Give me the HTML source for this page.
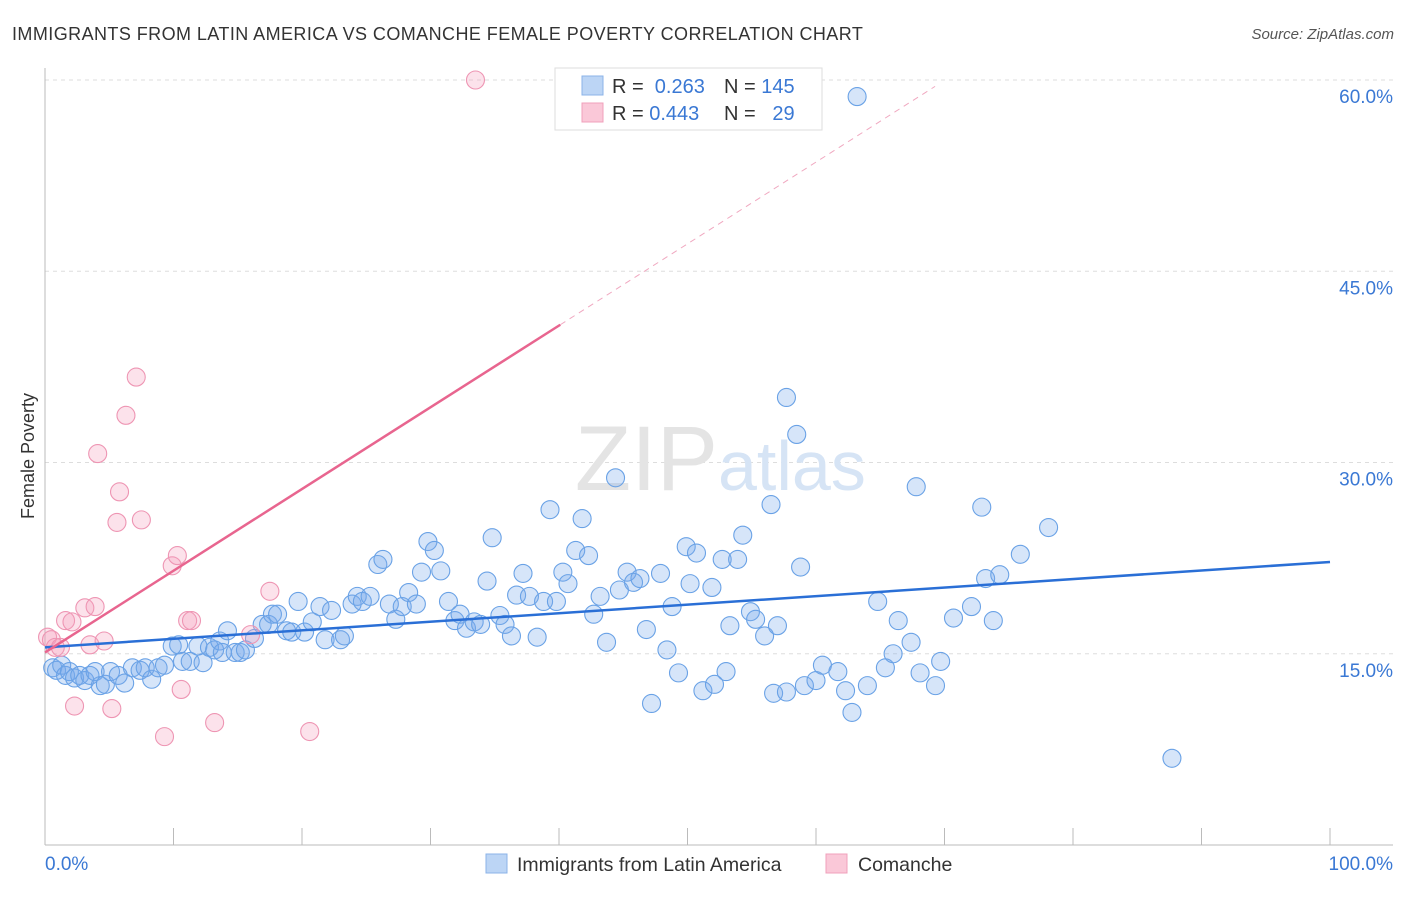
<!DOCTYPE html>
<html><head><meta charset="utf-8"><style>
body{margin:0;background:#fff;font-family:"Liberation Sans",sans-serif;}
svg text{font-family:"Liberation Sans",sans-serif;}
</style></head><body>
<svg id="chart" width="1406" height="892" xmlns="http://www.w3.org/2000/svg">
<text x="12" y="40" font-size="18" fill="#333" letter-spacing="0.43">IMMIGRANTS FROM LATIN AMERICA VS COMANCHE FEMALE POVERTY CORRELATION CHART</text>
<text x="1394" y="39" font-size="15" fill="#555" font-style="italic" text-anchor="end">Source: ZipAtlas.com</text>
<text x="34" y="456" font-size="18" fill="#333" text-anchor="middle" transform="rotate(-90 34 456)">Female Poverty</text>
<g id="grid"></g>
<text x="718" y="490" font-size="92" fill="#e4e4e4" font-family="Liberation Serif" text-anchor="end">ZIP</text>
<text x="718" y="490" font-size="70" fill="#d6e4f5">atlas</text>
<g id="marks"></g>
<g>
<rect x="555" y="68" width="267" height="62" fill="#fff" stroke="#ddd"/>
<rect x="582" y="76" width="21" height="19" fill="#bcd5f5" stroke="#8bb3e8"/>
<rect x="582" y="103" width="21" height="19" fill="#fac8d8" stroke="#f0a0bb"/>
<text x="612" y="93" font-size="20" fill="#333">R = <tspan fill="#3a78d4">&#160;0.263</tspan></text>
<text x="724" y="93" font-size="20" fill="#333">N = <tspan fill="#3a78d4">145</tspan></text>
<text x="612" y="120" font-size="20" fill="#333">R = <tspan fill="#3a78d4">0.443</tspan></text>
<text x="724" y="120" font-size="20" fill="#333">N = <tspan fill="#3a78d4">&#160;&#160;29</tspan></text>
</g>
<g>
<rect x="486" y="854" width="21" height="19" fill="#bcd5f5" stroke="#8bb3e8"/>
<text x="517" y="871" font-size="19.5" fill="#333">Immigrants from Latin America</text>
<rect x="826" y="854" width="21" height="19" fill="#fac8d8" stroke="#f0a0bb"/>
<text x="858" y="871" font-size="19.5" fill="#333">Comanche</text>
</g>
</svg>
<script>
const blueX=[0.6,0.9,1.3,1.6,1.9,2.3,2.7,3.1,3.5,3.9,4.3,4.7,5.1,5.7,6.2,6.8,7.4,7.8,8.3,8.8,9.3,9.9,10.4,10.7,11.3,11.9,12.3,12.8,13.2,13.6,13.8,14.2,14.8,15.2,15.6,16.3,16.9,17.4,17.7,18.1,18.8,19.2,19.7,20.2,20.8,21.4,21.8,22.3,23.0,23.3,23.9,24.3,24.7,25.3,25.9,26.3,26.8,27.3,27.8,28.3,28.9,29.3,29.8,30.3,30.8,31.4,31.9,32.3,32.8,33.4,33.9,34.4,34.8,35.4,35.8,36.3,36.7,37.2,37.7,38.3,38.8,39.3,39.8,40.3,40.7,41.3,41.8,42.3,42.7,43.2,43.7,44.4,44.7,45.3,45.8,46.3,46.8,47.2,47.9,48.4,48.8,49.3,49.9,50.2,50.7,51.2,51.9,52.1,52.7,53.0,53.3,53.9,54.3,54.9,55.3,56.0,56.5,56.7,57.0,57.7,57.7,58.5,58.8,59.1,60.0,60.5,61.7,62.3,62.8,63.2,64.0,64.8,65.4,66.0,66.4,67.4,67.8,68.1,69.3,69.7,70.7,72.1,72.9,73.2,73.8,74.3,75.9,78.1,87.7];
const blueY=[13.9,13.7,14.1,13.3,13.6,13.1,13.3,12.9,13.3,13.6,12.5,12.6,13.6,13.3,12.7,13.9,13.7,13.9,13.0,13.9,14.1,15.6,15.7,14.4,14.4,15.6,14.3,15.5,15.3,16.0,15.1,16.8,15.1,15.1,15.3,16.2,17.3,17.3,18.1,18.1,16.8,16.7,19.1,16.7,17.5,18.7,16.1,18.4,16.1,16.4,18.9,19.5,19.1,19.5,22.0,22.4,18.9,17.7,18.7,19.8,18.9,21.4,23.8,23.1,21.5,19.1,17.6,18.1,17.0,17.5,17.3,20.7,24.1,18.0,17.3,16.4,19.6,21.3,19.5,16.3,19.1,26.3,19.1,21.4,20.5,23.1,25.6,22.7,18.1,19.5,15.9,28.8,20.0,21.4,20.6,20.9,16.9,11.1,21.3,15.3,18.7,13.5,23.4,20.5,22.9,12.1,20.2,12.6,22.4,13.6,17.2,22.4,24.3,18.3,17.7,16.4,26.7,11.9,17.2,35.1,12.0,32.2,21.8,12.5,12.9,14.1,13.6,12.1,10.4,58.7,12.5,19.1,13.9,15.0,17.6,15.9,28.1,13.5,12.5,14.4,17.8,18.7,26.5,20.9,17.6,21.2,22.8,24.9,6.8];
const pinkX=[0.2,0.5,0.8,1.2,1.6,2.1,2.3,3.1,3.5,3.9,4.1,4.6,5.2,5.6,5.8,6.3,7.1,7.5,9.3,9.9,10.3,10.6,11.1,11.4,13.2,16.0,17.5,20.6,33.5];
const pinkY=[16.3,16.1,15.5,15.5,17.6,17.5,10.9,18.6,15.7,18.7,30.7,16.0,10.7,25.3,27.7,33.7,36.7,25.5,8.5,21.9,22.7,12.2,17.6,17.6,9.6,16.5,19.9,8.9,60.0];
const blueTrend=[15.5,22.2];
const pinkTrend=[15.1,0.641];
const yTicks=[15,30,45,60];
const xTicks=[0,10,20,30,40,50,60,70,80,90,100];
const NS='http://www.w3.org/2000/svg';
const sx=v=>45+v*12.85, sy=v=>845-v*12.75;
function mk(tag,attrs,parent){const e=document.createElementNS(NS,tag);for(const k in attrs)e.setAttribute(k,attrs[k]);parent.appendChild(e);return e;}
const grid=document.getElementById('grid'), marks=document.getElementById('marks');
yTicks.forEach(t=>{
 const l=mk('line',{x1:45,x2:1393,y1:sy(t),y2:sy(t),stroke:'#ddd','stroke-dasharray':'4,4'},grid);
 
 
 const tx=mk('text',{x:1393,y:sy(t)+23,'font-size':19,fill:'#3a78d4','text-anchor':'end'},grid);
 tx.textContent=t.toFixed(1)+'%';
 
 
});
const ya=mk('line',{x1:45,x2:45,y1:68,y2:845,stroke:'#bbb'},grid);


const xa=mk('line',{x1:45,x2:1393,y1:845,y2:845,stroke:'#bbb'},grid);


xTicks.forEach(t=>{
 const l=mk('line',{x1:sx(t),x2:sx(t),y1:828,y2:845,stroke:'#bbb'},grid);
 
 
});
[[0,'start',45,'0.0%'],[100,'end',1393,'100.0%']].forEach(a=>{
 const tx=mk('text',{x:a[2],y:870,'font-size':19,fill:'#3a78d4','text-anchor':a[1]},grid);
 tx.textContent=a[3];
 
 
});
blueX.forEach((x,i)=>{
 const c=mk('circle',{cx:sx(x),cy:sy(blueY[i]),r:9,fill:'rgba(120,170,235,0.3)',stroke:'#6aa2e6','stroke-width':1.1},marks);
 
 
});
pinkX.forEach((x,i)=>{
 const c=mk('circle',{cx:sx(x),cy:sy(pinkY[i]),r:9,fill:'rgba(245,160,190,0.3)',stroke:'#ee95b3','stroke-width':1.1},marks);
 
 
});
const bl=mk('line',{x1:sx(0),y1:sy(blueTrend[0]),x2:sx(100),y2:sy(blueTrend[1]),stroke:'#2a6fd6','stroke-width':2.5},marks);


const pEnd=40.1, pMax=(59.5-pinkTrend[0])/pinkTrend[1];
const pl=mk('line',{x1:sx(0),y1:sy(pinkTrend[0]),x2:sx(pEnd),y2:sy(pinkTrend[0]+pinkTrend[1]*pEnd),stroke:'#e8658f','stroke-width':2.5},marks);


const pd=mk('line',{x1:sx(pEnd),y1:sy(pinkTrend[0]+pinkTrend[1]*pEnd),x2:sx(pMax),y2:sy(59.5),stroke:'#f0a8c0','stroke-width':1,'stroke-dasharray':'6,5'},marks);


</script>
</body></html>
